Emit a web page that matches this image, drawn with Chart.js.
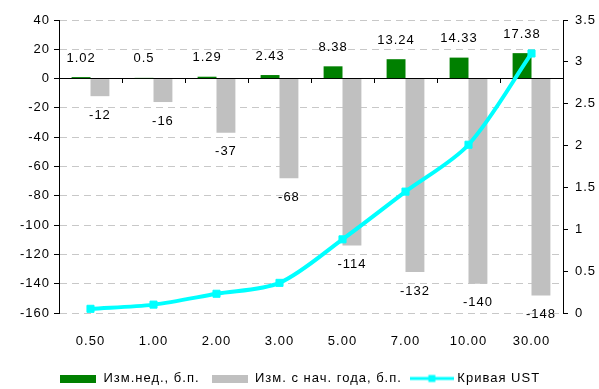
<!DOCTYPE html>
<html>
<head>
<meta charset="utf-8">
<script src="https://cdn.jsdelivr.net/npm/chart.js@4.4.1/dist/chart.umd.min.js"></script>
<style>
    body { margin: 0; background: #fff; }
</style>
</head>
<body>
<canvas id="myChart" width="599" height="389"></canvas>
<script>
var categories = ['0.50', '1.00', '2.00', '3.00', '5.00', '7.00', '10.00', '30.00'];
var weekChange = [1.02, 0.5, 1.29, 2.43, 8.38, 13.24, 14.33, 17.38];
var ytdChange = [-12, -16, -37, -68, -114, -132, -140, -148];
var ustCurve = [0.05, 0.10, 0.23, 0.36, 0.88, 1.45, 2.01, 3.10];
var seriesNames = ['Изм.нед., б.п.', 'Изм. с нач. года, б.п.', 'Кривая UST'];

var fontFamily = '"Liberation Sans", Arial, sans-serif';

window.onload = function () {

    Chart.defaults.font.family = fontFamily;
    Chart.defaults.font.size = 13;
    Chart.defaults.color = '#000';

    // little canvases used as legend symbols
    function boxIcon(color) {
        var c = document.createElement('canvas');
        c.width = 36; c.height = 8;
        var g = c.getContext('2d');
        g.fillStyle = color;
        g.fillRect(0, 0, 36, 8);
        return c;
    }
    function lineIcon(color) {
        var c = document.createElement('canvas');
        c.width = 44; c.height = 10;
        var g = c.getContext('2d');
        g.fillStyle = color;
        g.fillRect(0, 3.5, 44, 3);
        g.fillRect(18.5, 1.5, 7, 7);
        return c;
    }
    var legendIcons = [boxIcon('#008000'), boxIcon('#c0c0c0'), lineIcon('#00ffff')];

    // the original text is a bit wider spaced than plain Arial
    var spacing = {
        id: 'spacing',
        beforeUpdate: function (chart) { chart.ctx.letterSpacing = '1px'; },
        beforeDraw: function (chart) { chart.ctx.letterSpacing = '1px'; }
    };

    var barLabels = {
        id: 'barLabels',
        afterDatasetsDraw: function (chart) {
            var ctx = chart.ctx;
            ctx.save();
            ctx.font = '13px ' + fontFamily;
            ctx.fillStyle = '#000';
            ctx.textAlign = 'center';
            ctx.textBaseline = 'middle';
            [0, 1].forEach(function (di) {
                var meta = chart.getDatasetMeta(di);
                meta.data.forEach(function (bar, i) {
                    var v = chart.data.datasets[di].data[i];
                    var y = v >= 0 ? bar.y - 19 : bar.y + 19;
                    ctx.fillText(String(v), bar.x, y);
                });
            });
            ctx.restore();
        }
    };

    var ctx = document.getElementById('myChart').getContext('2d');

    var myChart = new Chart(ctx, {
        type: 'bar',
        data: {
            labels: categories,
            datasets: [{
                label: seriesNames[0],
                data: weekChange,
                backgroundColor: '#008000',
                categoryPercentage: 0.6,
                barPercentage: 1.0,
                yAxisID: 'y',
                order: 1
            },
            {
                label: seriesNames[1],
                data: ytdChange,
                backgroundColor: '#c0c0c0',
                categoryPercentage: 0.6,
                barPercentage: 1.0,
                yAxisID: 'y',
                order: 1
            },
            {
                type: 'line',
                label: seriesNames[2],
                data: ustCurve,
                borderColor: '#00ffff',
                backgroundColor: '#00ffff',
                borderWidth: 4,
                pointStyle: 'rect',
                pointRadius: 5,
                pointBorderWidth: 1,
                tension: 0.3,
                yAxisID: 'y2',
                order: 0
            }]
        },
        options: {
            responsive: false,
            animation: false,
            layout: {
                padding: { top: 20, left: 0, right: 0, bottom: -6 }
            },
            plugins: {
                tooltip: { enabled: false },
                legend: {
                    position: 'bottom',
                    labels: {
                        usePointStyle: true,
                        pointStyleWidth: 38,
                        boxHeight: 10,
                        padding: 11,
                        sort: function (a, b) { return a.datasetIndex - b.datasetIndex; },
                        generateLabels: function (chart) {
                            var items = Chart.defaults.plugins.legend.labels.generateLabels(chart);
                            items.forEach(function (item) {
                                item.pointStyle = legendIcons[item.datasetIndex];
                            });
                            return items;
                        }
                    }
                }
            },
            scales: {
                x: {
                    grid: { display: false, drawTicks: false },
                    border: { display: false },
                    ticks: { padding: 21 },
                    afterFit: function (scale) { scale.height = 48; }
                },
                xZero: {
                    type: 'category',
                    position: { y: 0 },
                    offset: true,
                    grid: {
                        offset: true,
                        drawOnChartArea: false,
                        drawTicks: true,
                        tickLength: 4,
                        tickColor: '#000'
                    },
                    border: { display: false },
                    ticks: { display: false }
                },
                y: {
                    position: 'left',
                    min: -160,
                    max: 40,
                    ticks: { stepSize: 20, padding: 4 },
                    grid: {
                        color: function (c) {
                            return c.tick && c.tick.value === 0 ? '#000' : '#c8c8c8';
                        },
                        tickColor: '#000',
                        tickLength: 5
                    },
                    border: {
                        color: '#000',
                        dash: function (c) {
                            return c.tick && c.tick.value !== 0 ? [7, 5] : [];
                        }
                    },
                    afterFit: function (scale) { scale.width = 59; }
                },
                y2: {
                    position: 'right',
                    min: 0,
                    max: 3.5,
                    ticks: {
                        stepSize: 0.5,
                        padding: 7,
                        callback: function (value) { return String(Math.round(value * 10) / 10); }
                    },
                    grid: {
                        drawOnChartArea: false,
                        tickColor: '#000',
                        tickLength: 5
                    },
                    border: { color: '#000' },
                    afterFit: function (scale) { scale.width = 36; }
                }
            }
        },
        plugins: [spacing, barLabels]
    });
}
</script>
</body>
</html>
